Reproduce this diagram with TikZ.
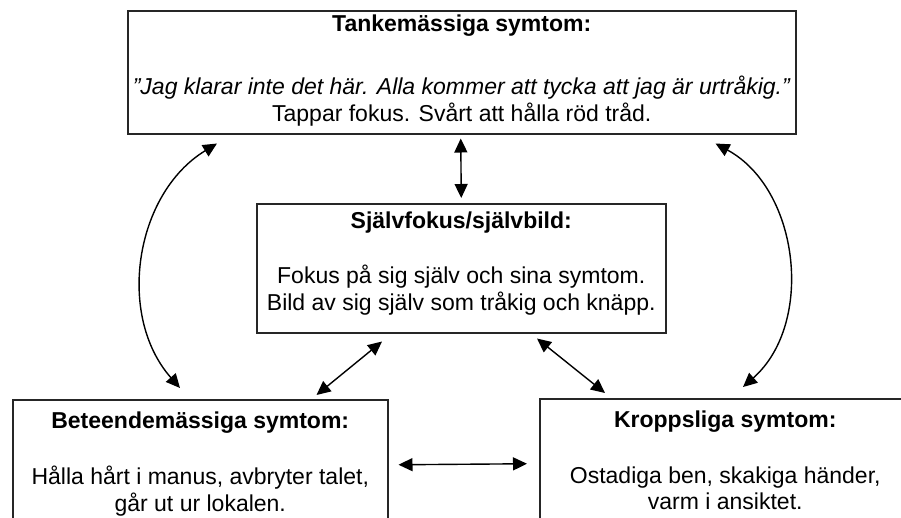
\documentclass[tikz,border=0pt]{standalone}
\usepackage{fontspec}
\setmainfont{Liberation Sans}
\usetikzlibrary{arrows.meta,positioning,calc}

\begin{document}
\begin{tikzpicture}[
  x=1pt,y=-1pt,
  >={Triangle[length=14pt,width=13pt]},
  symbox/.style={
    rectangle,draw=black!85,line width=1.5pt,
    anchor=north west,inner sep=0pt,
    font=\fontsize{23}{26}\selectfont
  },
  link/.style={<->,line width=1.4pt}
]

\useasboundingbox (0,0) rectangle (901,517);
\clip (0,0) rectangle (901,517);

% ---- thoughts, on top ----
\node[symbox,minimum width=668pt,minimum height=123pt] (tanke) at (127,10) {%
  \begin{tabular}{@{}c@{}}
    \textbf{Tankemässiga symtom:}\\[37pt]
    \textit{”Jag klarar inte det här. Alla kommer att tycka att jag är urtråkig.”}\\
    Tappar fokus. Svårt att hålla röd tråd.\\[2pt]
  \end{tabular}%
};

% ---- self focus, in the middle ----
\node[symbox,minimum width=409pt,minimum height=129pt] (midt) at (256,203) {%
  \begin{tabular}{@{}c@{}}
    \textbf{Självfokus/självbild:}\\[29pt]
    Fokus på sig själv och sina symtom.\\
    Bild av sig själv som tråkig och knäpp.\\[8pt]
  \end{tabular}%
};

% ---- behaviour and body, cut off at the bottom ----
\node[symbox,minimum width=375pt,minimum height=130pt] (beteende) at (12,399) {%
  \begin{tabular}{@{}c@{}}
    \textbf{Beteendemässiga symtom:}\\[30pt]
    Hålla hårt i manus, avbryter talet,\\
    går ut ur lokalen.
  \end{tabular}%
};

\node[symbox,minimum width=371pt,minimum height=130pt] (kropp) at (539,398) {%
  \begin{tabular}{@{}c@{}}
    \textbf{Kroppsliga symtom:}\\[30pt]
    Ostadiga ben, skakiga händer,\\
    varm i ansiktet.
  \end{tabular}%
};

% ---- links ----
\draw[link] ($(tanke.south)+(-1,4)$) -- ($(midt.north)+(0,-5)$);

\draw[link] ($(tanke.south west)+(90,9)$) to[bend right=50] ($(beteende.north west)+(168,-11)$);
\draw[link] ($(tanke.south east)+(-81,9)$) to[bend left=55] ($(kropp.north west)+(204,-11)$);

\draw[link] ($(midt.south west)+(126,8)$) -- ($(beteende.north east)+(-72,-4)$);
\draw[link] ($(midt.south west)+(281,5)$) -- ($(kropp.north west)+(66,-5)$);

\draw[link] ($(beteende.east)+(10,0)$) -- ($(kropp.west)+(-12,0)$);

\end{tikzpicture}
\end{document}
